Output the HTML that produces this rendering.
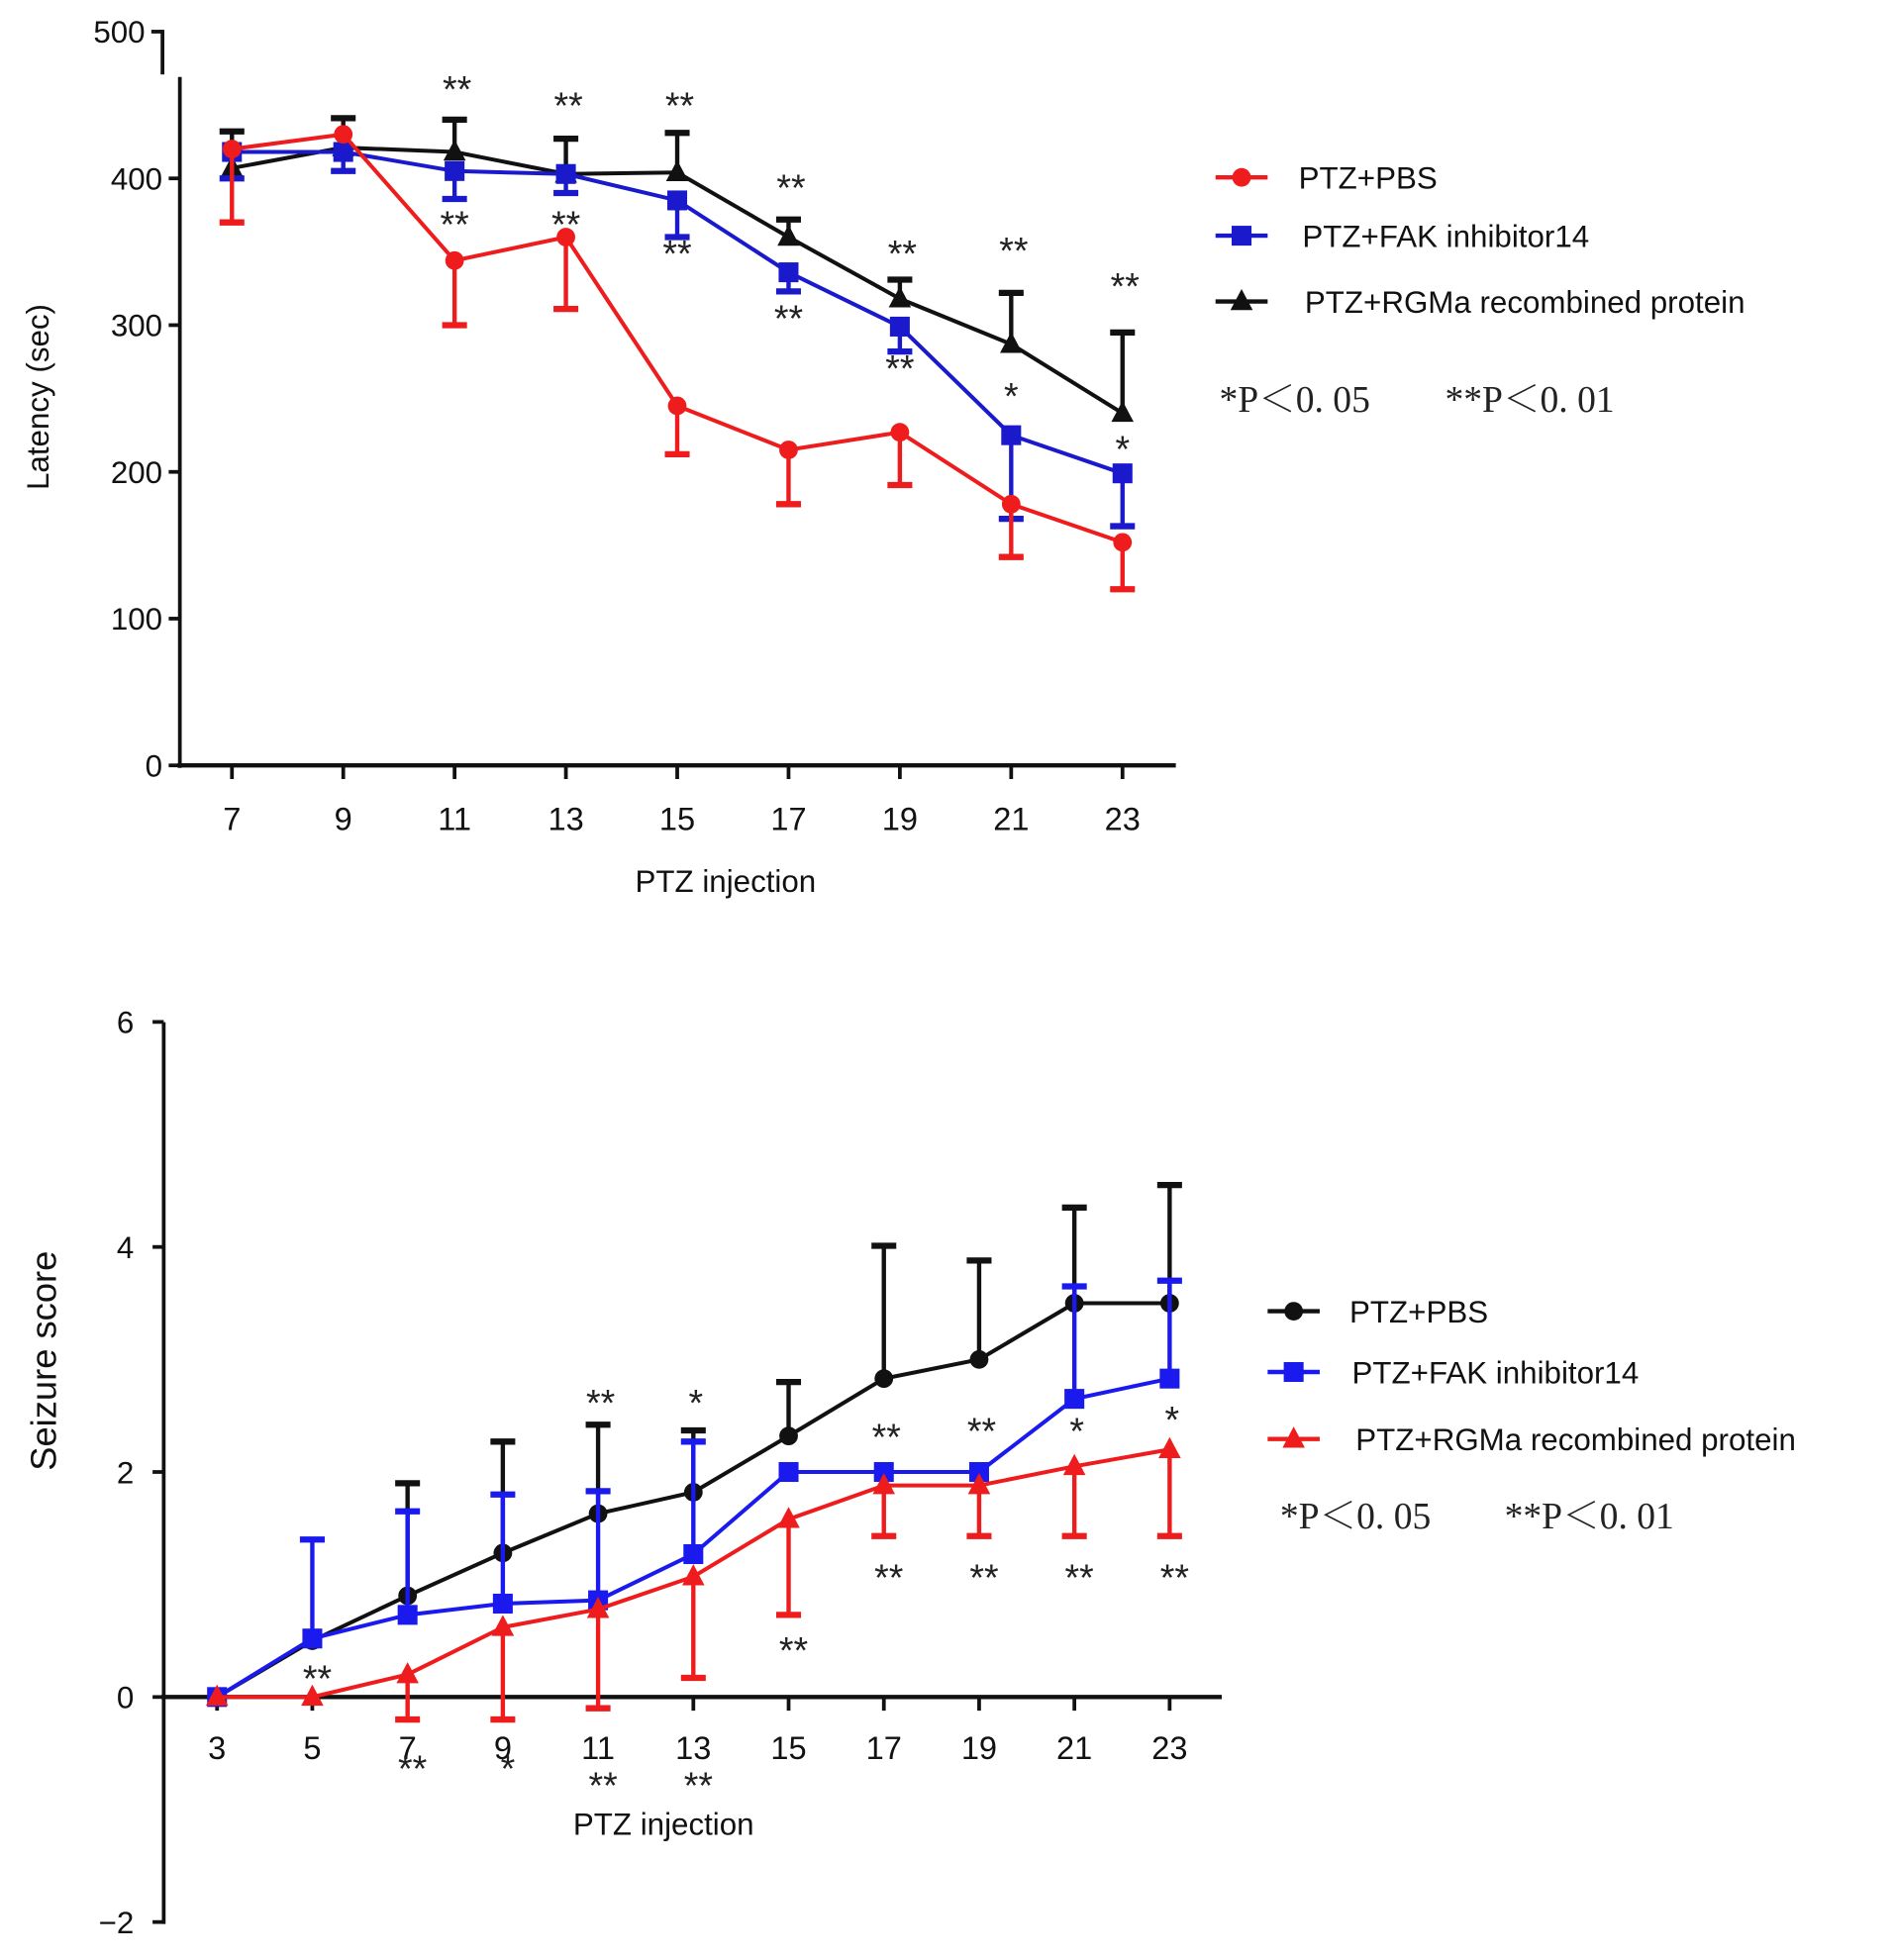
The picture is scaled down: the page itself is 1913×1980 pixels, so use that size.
<!DOCTYPE html>
<html><head><meta charset="utf-8"><style>
html,body{margin:0;padding:0;background:#fff;}
svg{display:block;font-family:"Liberation Sans",Arial,sans-serif;}
.sig{font-family:"Liberation Serif","Noto Serif CJK SC",serif;}
</style></head><body>
<svg id="c" width="1913" height="1980" viewBox="0 0 1527 1580" preserveAspectRatio="none" xmlns="http://www.w3.org/2000/svg"></svg>
<script>
// ---- Top chart data (Latency) ----
const topX = [7,9,11,13,15,17,19,21,23];
const topPBS = [420,430,344,360,245,215,227,178,152];
const topPBSErr = [370,null,300,311,212,178,191,142,120];
const topFAK = [418,418,405,403,385,336,299,225,199];
const topFAKErr = [400,405,386,390,360,323,282,168,163];
const topRGM = [407,421,418,403,404,360,318,287,240];
const topRGMErr = [432,441,440,427,431,372,331,322,295];
const topYTicks = [0,100,200,300,400,500];
const topStarsAbove = [null,null,'**','**','**','**','**','**','**'];
const topStarsAboveY = [null,null,452,441,441,385,340,342,318];
const topStarsBelow = [null,null,'**','**','**','**','**','*','*'];
const topStarsBelowY = [null,null,360,360,340,296,262,243,207];
// ---- Bottom chart data (Seizure score) ----
const botX = [3,5,7,9,11,13,15,17,19,21,23];
const botPBS = [0,0.5,0.9,1.28,1.63,1.82,2.32,2.83,3.0,3.5,3.5];
const botPBSErr = [null,null,1.9,2.27,2.42,2.37,2.8,4.01,3.88,4.35,4.55];
const botFAK = [0,0.52,0.73,0.83,0.86,1.27,2.0,2.0,2.0,2.65,2.83];
const botFAKErr = [null,1.4,1.65,1.8,1.83,2.27,null,null,null,3.65,3.7];
const botRGM = [0,0,0.2,0.62,0.78,1.07,1.58,1.88,1.88,2.05,2.2];
const botRGMErr = [null,null,-0.2,-0.2,-0.1,0.17,0.73,1.43,1.43,1.43,1.43];
const botYTicks = [-2,0,2,4,6];
const botStarsAbove = [null,null,null,null,'**','*',null,'**','**','*','*'];
const botStarsAboveY = [null,null,null,null,2.5,2.5,null,2.2,2.25,2.25,2.35];
const botStarsBelow = [null,'**','**','*','**','**','**','**','**','**','**'];
const botStarsBelowY = [null,0.05,-0.75,-0.75,-0.9,-0.9,0.3,0.95,0.95,0.95,0.95];

const svg = document.getElementById('c');
const NS = 'http://www.w3.org/2000/svg';
function mk(tag, attrs, parent){const e=document.createElementNS(NS,tag);for(const k in attrs)e.setAttribute(k,attrs[k]);(parent||svg).appendChild(e);return e;}
function txt(s, attrs, parent){const e=mk('text',attrs,parent);e.textContent=s;return e;}

function marker(g, type, x, y, col){
  if(type==='circle') return mk('circle',{cx:x,cy:y,r:7.5,fill:col},g);
  if(type==='square') return mk('rect',{x:x-8,y:y-8,width:16,height:16,fill:col},g);
  return mk('polygon',{points:`${x},${y-10} ${x-9},${y+7} ${x+9},${y+7}`,fill:col},g);
}
function series(name, xs, ys, errs, X, Y, col, type){
  const g = mk('g',{});
  
  
  xs.forEach((xv,i)=>{ if(errs[i]!==null){
    const x=X(xv), y1=Y(ys[i]), y2=Y(errs[i]);
    const eb = mk('g',{},g);
    
    
    mk('line',{x1:x,y1:y1,x2:x,y2:y2,stroke:col,'stroke-width':3.5},eb);
    mk('line',{x1:x-10,y1:y2,x2:x+10,y2:y2,stroke:col,'stroke-width':5},eb);
  }});
  mk('polyline',{points:xs.map((xv,i)=>X(xv)+','+Y(ys[i])).join(' '),fill:'none',stroke:col,'stroke-width':3.2},g);
  xs.forEach((xv,i)=>{
    const m = marker(g,type,X(xv),Y(ys[i]),col);
    
    
  });
}
function stars(xs, labels, ys, X, Y, dx){
  xs.forEach((xv,i)=>{ if(labels[i]){
    const t = txt(labels[i],{x:X(xv)+(dx||0),y:Y(ys[i]),'font-size':30,'text-anchor':'middle',fill:'#222'});
    
    
  }});
}
function legend(x0, ys, names, cols, types, tx){
  ys.forEach((y,i)=>{
    const g = mk('g',{});
    
    
    mk('line',{x1:x0,y1:y,x2:x0+42,y2:y,stroke:cols[i],'stroke-width':3.5},g);
    marker(g,types[i],x0+21,y,cols[i]);
    txt(names[i],{x:tx[i],y:y+9,'font-size':25,fill:'#111'},g);
  });
}
function key(x1,x2,y,name){
  const g = mk('g',{});
  
  
  txt('*P＜0. 05',{x:x1,y:y,'font-size':30,fill:'#222','class':'sig'},g);
  txt('**P＜0. 01',{x:x2,y:y,'font-size':30,fill:'#222','class':'sig'},g);
}

// ===== TOP =====
const tX = v => 187 + (v-7)*(905-187)/16;
const tY = v => 617 - v*1.183;
const axT = mk('g',{});


mk('line',{x1:145,y1:62,x2:145,y2:619,stroke:'#111','stroke-width':3},axT);
mk('line',{x1:131,y1:24,x2:131,y2:60,stroke:'#111','stroke-width':3},axT);
mk('line',{x1:143,y1:617,x2:948,y2:617,stroke:'#111','stroke-width':3.5},axT);
topYTicks.forEach(v=>{
  const xx = v===500?131:145;
  mk('line',{x1:xx-9,y1:tY(v),x2:xx,y2:tY(v),stroke:'#111','stroke-width':3},axT);
  txt(String(v),{x:xx-14,y:tY(v)+9,'font-size':25,'text-anchor':'end',fill:'#111'},axT);
});
topX.forEach(v=>{
  mk('line',{x1:tX(v),y1:617,x2:tX(v),y2:628,stroke:'#111','stroke-width':3},axT);
  txt(String(v),{x:tX(v),y:669,'font-size':26,'text-anchor':'middle',fill:'#111'},axT);
});
const tyt = txt('Latency (sec)',{x:0,y:0,'font-size':25,'text-anchor':'middle',fill:'#111',transform:'translate(39,320) rotate(-90)'});

const txt1 = txt('PTZ injection',{x:585,y:719,'font-size':25,'text-anchor':'middle',fill:'#111'});

series('top-rgma', topX, topRGM, topRGMErr, tX, tY, '#111', 'tri');
series('top-fak', topX, topFAK, topFAKErr, tX, tY, '#1a1acc', 'square');
series('top-pbs', topX, topPBS, topPBSErr, tX, tY, '#ee1c1c', 'circle');
stars(topX, topStarsAbove, topStarsAboveY, tX, tY, 2);
stars(topX, topStarsBelow, topStarsBelowY, tX, tY, 0);
legend(980,[143,190,243],['PTZ+PBS','PTZ+FAK inhibitor14','PTZ+RGMa recombined protein'],['#ee1c1c','#1a1acc','#111'],['circle','square','tri'],[1047,1050,1052]);
key(983,1165,332,'top-significance-key');

// ===== BOTTOM =====
const bX = v => 175 + (v-3)*(943-175)/20;
const bY = v => 1368 - v*90.7;
const axB = mk('g',{});


mk('line',{x1:132,y1:824,x2:132,y2:1551,stroke:'#111','stroke-width':3},axB);
mk('line',{x1:130,y1:1368,x2:985,y2:1368,stroke:'#111','stroke-width':3.5},axB);
botYTicks.forEach(v=>{
  mk('line',{x1:123,y1:bY(v),x2:132,y2:bY(v),stroke:'#111','stroke-width':3},axB);
  txt(v<0?'\u2212'+(-v):String(v),{x:108,y:bY(v)+9,'font-size':25,'text-anchor':'end',fill:'#111'},axB);
});
botX.forEach(v=>{
  mk('line',{x1:bX(v),y1:1368,x2:bX(v),y2:1379,stroke:'#111','stroke-width':3},axB);
  txt(String(v),{x:bX(v),y:1418,'font-size':26,'text-anchor':'middle',fill:'#111'},axB);
});
const byt = txt('Seizure score',{x:0,y:0,'font-size':29,'text-anchor':'middle',fill:'#111',transform:'translate(45,1097) rotate(-90)'});

const bxt = txt('PTZ injection',{x:535,y:1479,'font-size':25,'text-anchor':'middle',fill:'#111'});

series('bottom-pbs', botX, botPBS, botPBSErr, bX, bY, '#111', 'circle');
series('bottom-fak', botX, botFAK, botFAKErr, bX, bY, '#1a1aee', 'square');
series('bottom-rgma', botX, botRGM, botRGMErr, bX, bY, '#ee1c1c', 'tri');
stars(botX, botStarsAbove, botStarsAboveY, bX, bY, 2);
stars(botX, botStarsBelow, botStarsBelowY, bX, bY, 4);
legend(1022,[1057,1106,1160],['PTZ+PBS','PTZ+FAK inhibitor14','PTZ+RGMa recombined protein'],['#111','#1a1aee','#ee1c1c'],['circle','square','tri'],[1088,1090,1093]);
key(1032,1213,1232,'bottom-significance-key');
</script>
</body></html>
